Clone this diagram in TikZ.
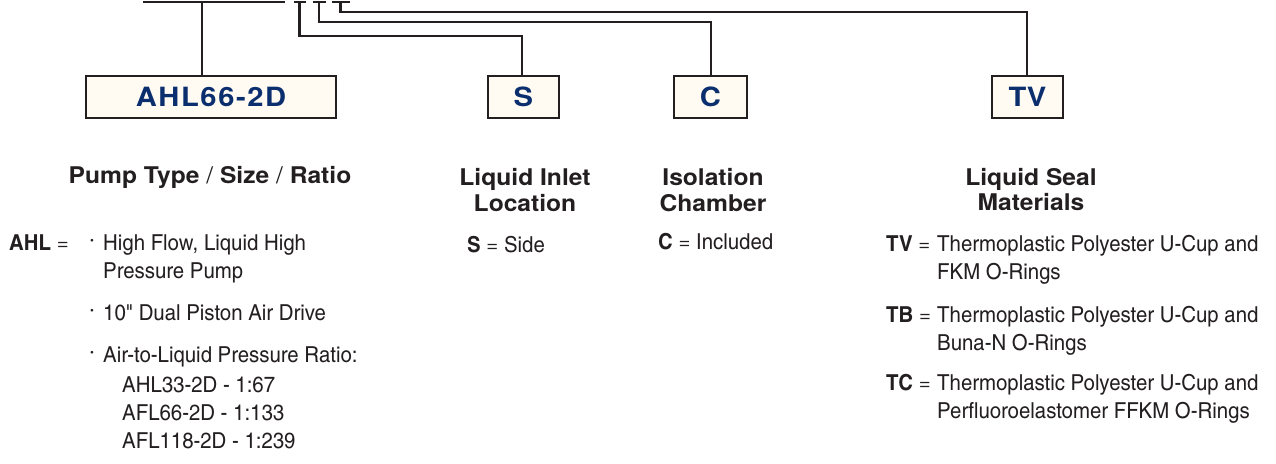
\documentclass[tikz,border=0pt]{standalone}
\usepackage{fontspec}
\setmainfont{TeX Gyre Heros}
\newfontfamily\cnfont[FakeStretch=1.13,BoldFont=texgyreheroscn-bold.otf,BoldFeatures={FakeStretch=1.13}]{texgyreheroscn-regular.otf}
\newfontfamily\headfont[FakeStretch=1.07]{TeX Gyre Heros}
\newfontfamily\boxfont[FakeStretch=1.1]{TeX Gyre Heros}
\newfontfamily\wideboxfont[FakeStretch=1.1,LetterSpace=6]{TeX Gyre Heros}
\definecolor{navy}{HTML}{0B2F6E}
\definecolor{ink}{HTML}{231F20}
\definecolor{cream}{HTML}{FFFBF3}
\begin{document}
\begin{tikzpicture}[x=1pt,y=-1pt,
  line/.style={draw=ink,line width=2.1pt},
  codebox/.style={draw=ink,line width=2.3pt,fill=cream,inner sep=0pt,
    minimum height=42pt,font=\boxfont\bfseries\fontsize{26.5}{26.5}\selectfont,text=navy},
  head/.style={anchor=base,inner sep=0pt,font=\headfont\bfseries\fontsize{23}{26}\selectfont,text=ink},
  body/.style={anchor=base west,inner sep=0pt,font=\cnfont\fontsize{22}{28}\selectfont,text=ink},
  dot/.style={anchor=base west,inner sep=0pt,font=\fontsize{11}{11}\selectfont,text=ink},
]
\useasboundingbox (0,0) rectangle (1276,463);

% code boxes
\node[codebox,minimum width=250pt,font=\wideboxfont\bfseries\fontsize{26.5}{26.5}\selectfont] (ahlbox) at (211,96.7) {AHL66-2D};
\node[codebox,minimum width=71pt] (sbox) at (523.4,97) {S};
\node[codebox,minimum width=73pt] (cbox) at (710.5,97) {C};
\node[codebox,minimum width=71pt] (tvbox) at (1027.5,97) {TV};

% top code line
\coordinate (t0) at (143,2);
\coordinate (t1) at (285,2);
\coordinate (u0) at (294,2);
\coordinate (u1) at (306,2);
\coordinate (v0) at (313,2);
\coordinate (v1) at (326,2);
\coordinate (w0) at (332,2);
\coordinate (w1) at (350,2);
\draw[line] (t0) -- (t1);
\draw[line] (u0) -- (u1);
\draw[line] (v0) -- (v1);
\draw[line] (w0) -- (w1);

% connectors
\coordinate (tapA) at (202,2);
\draw[line] (tapA) -- (tapA |- ahlbox.north);
\coordinate (tapS) at (299.5,2);
\coordinate (bendS) at (521.7,36);
\draw[line] (tapS) |- (bendS) -- (bendS |- sbox.north);
\coordinate (tapC) at (319,2);
\coordinate (bendC) at (711,22);
\draw[line] (tapC) |- (bendC) -- (bendC |- cbox.north);
\coordinate (tapT) at (340.5,2);
\coordinate (bendT) at (1027,12);
\draw[line] (tapT) |- (bendT) -- (bendT |- tvbox.north);

% headings
\node[head] (h1) at (210,183) {Pump Type {\mdseries/} Size {\mdseries/} Ratio};
\node[head] (h2a) at (525,185) {Liquid Inlet};
\node[head] (h2b) at (525,211) {Location};
\node[head] (h3a) at (713,185) {Isolation};
\node[head] (h3b) at (713,211) {Chamber};
\node[head] (h4a) at (1031,185) {Liquid Seal};
\node[head] (h4b) at (1031,210) {Materials};

% pump type
\node[body] (ahlk) at (9,250) {\textbf{AHL} =};
\node[dot] (d1) at (90,244) {•};
\node[body] (b1) at (103,250) {High Flow, Liquid High};
\node[body] (b1b) at (103,278) {Pressure Pump};
\node[dot] (d2) at (90,314) {•};
\node[body] (b2) at (103,320) {10" Dual Piston Air Drive};
\node[dot] (d3) at (90,356) {•};
\node[body] (b3) at (103,362) {Air-to-Liquid Pressure Ratio:};
\node[body] (r1) at (122,392) {AHL33-2D - 1:67};
\node[body] (r2) at (122,420) {AFL66-2D - 1:133};
\node[body] (r3) at (122,448) {AFL118-2D - 1:239};

% inlet / chamber
\node[body] (s1) at (467,252) {\textbf{S} = Side};
\node[body] (c1) at (658,249) {\textbf{C} = Included};

% seals
\node[body] (tvk) at (886,251) {\textbf{TV} =};
\node[body] (tvd) at (937,251) {Thermoplastic Polyester U-Cup and};
\node[body] (tvd2) at (937,279) {FKM O-Rings};
\node[body] (tbk) at (886,322) {\textbf{TB} =};
\node[body] (tbd) at (937,322) {Thermoplastic Polyester U-Cup and};
\node[body] (tbd2) at (937,350) {Buna-N O-Rings};
\node[body] (tck) at (886,390) {\textbf{TC} =};
\node[body] (tcd) at (937,390) {Thermoplastic Polyester U-Cup and};
\node[body] (tcd2) at (937,418) {Perfluoroelastomer FFKM O-Rings};
\end{tikzpicture}
\end{document}
